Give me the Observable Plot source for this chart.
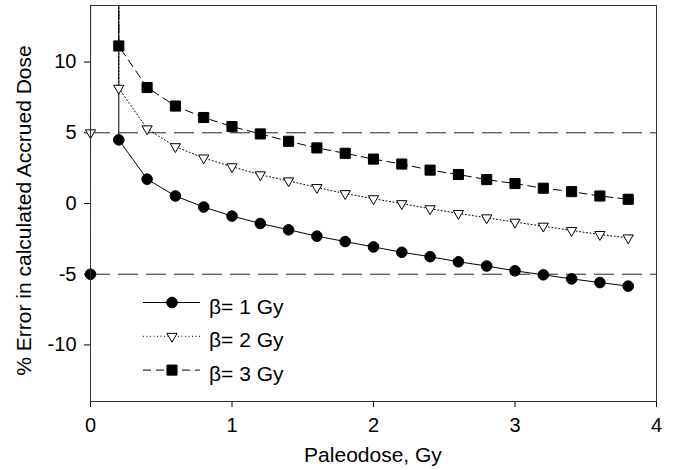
<!DOCTYPE html>
<html><head><meta charset="utf-8">
<script src="https://cdn.jsdelivr.net/npm/d3@7"></script>
<script src="https://cdn.jsdelivr.net/npm/@observablehq/plot@0.6"></script>
<style>body{margin:0;background:#fff} #chart{width:673px;height:470px}</style>
</head><body><div id="chart"></div>
<script>
const doses = [0, 0.2, 0.4, 0.6, 0.8, 1.0, 1.2, 1.4, 1.6, 1.8, 2.0, 2.2, 2.4, 2.6, 2.8, 3.0, 3.2, 3.4, 3.6, 3.8];
const beta1 = [-5, 4.5, 1.72, 0.53, -0.25, -0.89, -1.41, -1.86, -2.31, -2.69, -3.07, -3.45, -3.76, -4.12, -4.42, -4.76, -5.04, -5.33, -5.59, -5.84];
const beta2 = [5, 8.15, 5.28, 4.02, 3.22, 2.6, 2.03, 1.6, 1.13, 0.70, 0.34, -0.01, -0.37, -0.70, -1.01, -1.32, -1.60, -1.91, -2.19, -2.43];
const beta3 = [15, 11.14, 8.2, 6.89, 6.08, 5.44, 4.92, 4.40, 3.93, 3.55, 3.14, 2.79, 2.36, 2.05, 1.69, 1.41, 1.08, 0.84, 0.53, 0.30];
const spikeDose = 0.199;
const spikeValue = 5000;
const seriesNames = ["β= 1 Gy", "β= 2 Gy", "β= 3 Gy"];
const refLines = [5, -5];
const yTicks = [-10, -5, 0, 5, 10];
const xTicks = [0, 1, 2, 3, 4];
const yDomain = [-14, 14];
const xTitle = "Paleodose, Gy";
const yTitle = "% Error in calculated Accrued Dose";

const triangleDown = {
  draw(context, size) {
    const s3 = Math.sqrt(3);
    const y = -Math.sqrt(size / (s3 * 3));
    context.moveTo(0, -y * 2);
    context.lineTo(-s3 * y, y);
    context.lineTo(s3 * y, y);
    context.closePath();
  }
};

function rows(vals, name) {
  return doses.map((d, i) => ({x: d, y: vals[i], s: name}));
}
function lineRows(vals, name) {
  const r = rows(vals, name);
  r.splice(1, 0, {x: spikeDose, y: spikeValue, s: name});
  return r;
}
const inView = d => d.y >= yDomain[0] && d.y <= yDomain[1];

const styles = [
  {dash: null, symbol: "circle", fill: "black", r: 5.3},
  {dash: "1,2.5", symbol: triangleDown, fill: "white", r: 3.8},
  {dash: "8,5", symbol: "square", fill: "black", r: 5.7}
];
const allVals = [beta1, beta2, beta3];

const marks = [
  Plot.ruleY(refLines, {stroke: "#222", strokeWidth: 1, strokeDasharray: "20,8"})
];
allVals.forEach((vals, i) => {
  marks.push(Plot.line(lineRows(vals, seriesNames[i]), {x: "x", y: "y", stroke: "black", strokeWidth: 1, strokeDasharray: styles[i].dash, clip: true}));
});
allVals.forEach((vals, i) => {
  marks.push(Plot.dot(rows(vals, seriesNames[i]).filter(inView), {x: "x", y: "y", symbol: styles[i].symbol, r: styles[i].r, fill: styles[i].fill, stroke: "black", strokeWidth: 1}));
});
marks.push(Plot.frame({stroke: "#333"}));

const chart = Plot.plot({
  width: 673,
  height: 470,
  marginLeft: 90,
  marginRight: 17,
  marginTop: 5,
  marginBottom: 69,
  style: {fontFamily: "Liberation Sans, Arial, sans-serif", fontSize: "20px", color: "black", background: "white"},
  x: {domain: [0, 4], ticks: xTicks, tickSize: 6, tickPadding: 10, tickFormat: d => String(d), label: null},
  y: {domain: yDomain, ticks: yTicks, tickSize: 6, tickPadding: 8, tickFormat: d => String(d), label: null},
  marks
});
document.getElementById("chart").appendChild(chart);

const svg = d3.select(chart);
// axis titles
svg.append("text").attr("x", 373).attr("y", 461.5).attr("text-anchor", "middle")
  .attr("font-size", 21).attr("fill", "black").text(xTitle);
svg.append("text").attr("transform", "translate(31,210.5) rotate(-90)").attr("text-anchor", "middle")
  .attr("font-size", 21).attr("fill", "black").text(yTitle);

// legend inside the plot area
const lg = svg.append("g").attr("transform", "translate(143,302.5)");
styles.forEach((st, i) => {
  const g = lg.append("g").attr("transform", `translate(0,${i * 33.8})`);
  g.append("line").attr("x1", 0).attr("x2", 57).attr("y1", 0).attr("y2", 0)
    .attr("stroke", "black").attr("stroke-width", 1).attr("stroke-dasharray", st.dash);
  const sym = typeof st.symbol === "string" ? (st.symbol === "circle" ? d3.symbolCircle : d3.symbolSquare) : st.symbol;
  g.append("path").attr("transform", "translate(29,0)")
    .attr("d", d3.symbol(sym, Math.PI * st.r * st.r)())
    .attr("fill", st.fill).attr("stroke", "black").attr("stroke-width", 1);
  g.append("text").attr("x", 66).attr("y", 11).attr("text-anchor", "start")
    .attr("font-size", 21).attr("fill", "black").text(seriesNames[i]);
});
</script></body></html>
